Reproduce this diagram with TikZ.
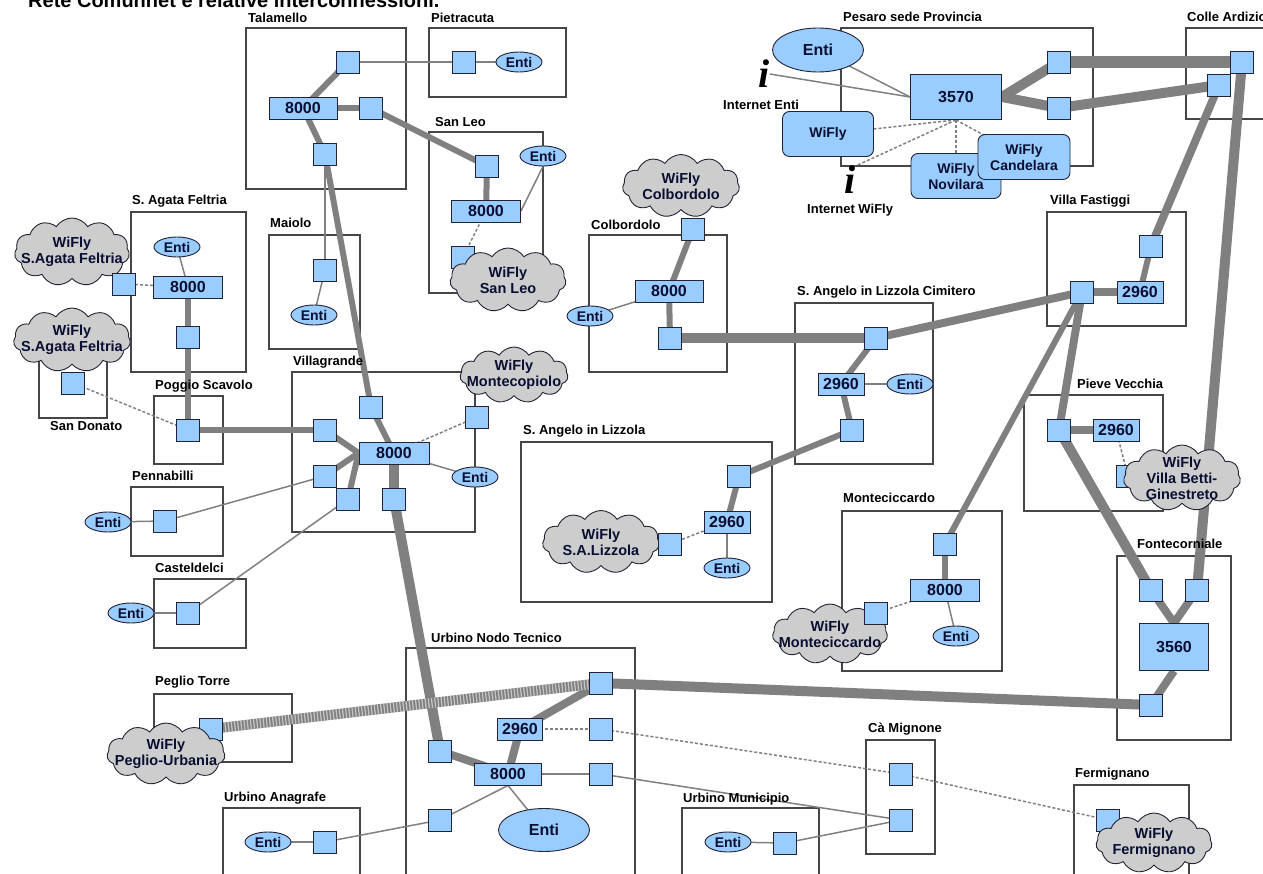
\documentclass[tikz,border=0pt]{standalone}
\usepackage{fontspec}
\setmainfont{Liberation Sans}
\newfontfamily\iconfont{Liberation Serif}
\usetikzlibrary{shapes.symbols,shapes.geometric}
\definecolor{nodeblue}{RGB}{153,204,255}
\definecolor{edgegray}{RGB}{128,128,128}
\definecolor{cloudgray}{RGB}{205,205,205}
\definecolor{boxline}{RGB}{70,70,70}
\definecolor{nodeline}{RGB}{35,35,55}
\definecolor{txt}{RGB}{10,15,50}
\pgfdeclarelayer{boxlayer}
\pgfdeclarelayer{linelayer}
\pgfsetlayers{boxlayer,linelayer,main}
\tikzset{
  port/.style={draw=nodeline, fill=nodeblue, minimum width=23pt, minimum height=22pt, inner sep=0pt, line width=0.9pt},
  switch/.style={draw=nodeline, fill=nodeblue, minimum height=22pt, inner sep=0pt, line width=0.9pt, text=txt, font=\bfseries\fontsize{16}{16}\selectfont},
  enti/.style={ellipse, draw=nodeline, fill=nodeblue, minimum width=46pt, minimum height=20pt, inner sep=0pt, line width=0.9pt, text=txt, font=\bfseries\fontsize{14}{14}\selectfont},
  bigenti/.style={enti, minimum width=91pt, minimum height=44pt, font=\bfseries\fontsize{16}{16}\selectfont},
  wcloud/.style={cloud, cloud puffs=11, cloud puff arc=115, cloud ignores aspect, draw=nodeline, fill=cloudgray, inner sep=0pt, line width=0.9pt},
  cloudtext/.style={align=center, inner sep=0pt, text=txt, font=\bfseries\fontsize{14.5}{16}\selectfont},
  wifibox/.style={draw=nodeline, fill=nodeblue, rounded corners=7pt, minimum width=91pt, minimum height=45pt, inner sep=0pt, line width=0.9pt, align=center, text=txt, font=\bfseries\fontsize{14}{16}\selectfont},
  site/.style={draw=boxline, line width=1.1pt},
  sitelabel/.style={anchor=west, inner sep=0pt, font=\bfseries\fontsize{13}{13}\selectfont},
  infoicon/.style={inner sep=0pt, font=\iconfont\bfseries\itshape\fontsize{40}{40}\selectfont},
  lthin/.style={draw=edgegray, line width=1.5pt},
  ldash/.style={draw=edgegray, line width=1.5pt, dash pattern=on 3pt off 2pt},
  lmed/.style={draw=edgegray, line width=6pt},
  lbig/.style={draw=edgegray, line width=8pt},
  lfat/.style={draw=edgegray, line width=10pt},
  lhatch/.style={draw=white, line width=10pt, dash pattern=on 1.2pt off 2pt, opacity=0.55},
}
\begin{document}
\begin{tikzpicture}[x=1pt,y=-1pt]
\useasboundingbox (0,0) rectangle (1263,874);
\node[anchor=base west, inner sep=0pt, font=\bfseries\fontsize{20}{20}\selectfont] (title) at (28,8) {Rete Comunnet e relative interconnessioni.};

% ---------- site boxes ----------
\begin{pgfonlayer}{boxlayer}
\draw[site] (246,28) rectangle (406,189);   % Talamello
\draw[site] (429,28) rectangle (566,97);    % Pietracuta
\draw[site] (429,132) rectangle (543,293);  % San Leo
\draw[site] (131,212) rectangle (246,372);  % S. Agata Feltria
\draw[site] (269,235) rectangle (360,349);  % Maiolo
\draw[site] (39,340) rectangle (107,418);   % San Donato
\draw[site] (154,396) rectangle (223,464);  % Poggio Scavolo
\draw[site] (292,372) rectangle (475,532);  % Villagrande
\draw[site] (131,487) rectangle (223,556);  % Pennabilli
\draw[site] (154,579) rectangle (246,648);  % Casteldelci
\draw[site] (589,235) rectangle (727,372);  % Colbordolo
\draw[site] (795,303) rectangle (933,464);  % Cimitero
\draw[site] (521,442) rectangle (772,602);  % S. Angelo in Lizzola
\draw[site] (841,28) rectangle (1093,166);  % Pesaro
\draw[site] (1186,28) rectangle (1275,119); % Colle Ardizio
\draw[site] (1047,212) rectangle (1186,326);% Villa Fastiggi
\draw[site] (1024,395) rectangle (1163,511);% Pieve Vecchia
\draw[site] (842,511) rectangle (1002,671); % Monteciccardo
\draw[site] (1117,556) rectangle (1231,740);% Fontecorniale
\draw[site] (406,648) rectangle (635,885);  % Urbino Nodo Tecnico
\draw[site] (154,694) rectangle (292,762);  % Peglio Torre
\draw[site] (223,808) rectangle (360,885);  % Urbino Anagrafe
\draw[site] (682,808) rectangle (819,885);  % Urbino Municipio
\draw[site] (866,740) rectangle (935,854);  % Ca Mignone
\draw[site] (1074,785) rectangle (1189,885);% Fermignano
\end{pgfonlayer}

% ---------- site labels ----------
\node[sitelabel] (l1) at (248,18) {Talamello};
\node[sitelabel] (l2) at (431,18) {Pietracuta};
\node[sitelabel] (l3) at (435,122) {San Leo};
\node[sitelabel] (l4) at (132,201) {S. Agata Feltria};
\node[sitelabel] (l5) at (270,223) {Maiolo};
\node[sitelabel] (l6) at (50,426) {San Donato};
\node[sitelabel] (l7) at (155,386) {Poggio Scavolo};
\node[sitelabel] (l8) at (293,362) {Villagrande};
\node[sitelabel] (l9) at (132,476) {Pennabilli};
\node[sitelabel] (l10) at (155,568) {Casteldelci};
\node[sitelabel] (l11) at (591,225) {Colbordolo};
\node[sitelabel] (l12) at (797,292) {S. Angelo in Lizzola Cimitero};
\node[sitelabel] (l13) at (523,431) {S. Angelo in Lizzola};
\node[sitelabel] (l14) at (843,17) {Pesaro sede Provincia};
\node[sitelabel] (l15) at (1187,17) {Colle Ardizio};
\node[sitelabel] (l16) at (1050,201) {Villa Fastiggi};
\node[sitelabel] (l17) at (1077,384) {Pieve Vecchia};
\node[sitelabel] (l18) at (843,498) {Monteciccardo};
\node[sitelabel] (l19) at (1137,544) {Fontecorniale};
\node[sitelabel] (l20) at (431,638) {Urbino Nodo Tecnico};
\node[sitelabel] (l21) at (155,682) {Peglio Torre};
\node[sitelabel] (l22) at (224,798) {Urbino Anagrafe};
\node[sitelabel] (l23) at (868,729) {Cà Mignone};
\node[sitelabel] (l24) at (683,799) {Urbino Municipio};
\node[sitelabel] (l25) at (1075,774) {Fermignano};
\node[sitelabel] (l26) at (723,105) {Internet Enti};
\node[sitelabel] (l27) at (807,210) {Internet WiFly};

% ---------- clouds lying under their ports ----------
\node[wcloud, minimum width=115pt, minimum height=68pt] (sacl) at (72,252) {};
\node[cloudtext] (sact) at (sacl) {WiFly\\S.Agata Feltria};
\node[wcloud, minimum width=117pt, minimum height=64pt] (sdcl) at (72,340) {};
\node[cloudtext] (sdct) at (sdcl) {WiFly\\S.Agata Feltria};
\node[wcloud, minimum width=108pt, minimum height=56pt] (mccl) at (514,375) {};
\node[cloudtext] (mcct) at (mccl) {WiFly\\Montecopiolo};
\node[wcloud, minimum width=117pt, minimum height=63pt] (cbcl) at (681,186) {};
\node[cloudtext] (cbct) at (cbcl) {WiFly\\Colbordolo};
\node[wcloud, minimum width=115pt, minimum height=60pt] (mocl) at (830,634) {};
\node[cloudtext] (moct) at (mocl) {WiFly\\Monteciccardo};
\node[wcloud, minimum width=117pt, minimum height=63pt] (lzcl) at (601,542) {};
\node[cloudtext] (lzct) at (lzcl) {WiFly\\S.A.Lizzola};

% ---------- Talamello / Pietracuta / San Leo ----------
\node[switch, minimum width=68pt] (tal8) at (303,108) {8000};
\node[port] (tala) at (348,62) {};
\node[port] (talb) at (371,108) {};
\node[port] (talc) at (325,154) {};
\node[port] (pisq) at (464,62) {};
\node[enti] (pien) at (519,62) {Enti};
\node[port] (slsq) at (487,166) {};
\node[switch, minimum width=69pt] (sl8) at (486,211) {8000};
\node[enti] (slen) at (543,156) {Enti};
\node[port] (slsq2) at (463,257) {};

% ---------- S. Agata / Maiolo / San Donato / Poggio ----------
\node[enti] (saen) at (177,247) {Enti};
\node[switch, minimum width=69pt] (sa8) at (188,287) {8000};
\node[port] (sasq) at (124,284) {};
\node[port] (sasq2) at (188,337) {};
\node[port] (masq) at (325,270) {};
\node[enti] (maen) at (314,315) {Enti};
\node[port] (sdsq) at (73,383) {};
\node[port] (pgsq) at (188,430) {};

% ---------- Villagrande / Pennabilli / Casteldelci ----------
\node[port] (vgtop) at (371,407) {};
\node[port] (vgl1) at (325,430) {};
\node[switch, minimum width=70pt] (vg8) at (394,453) {8000};
\node[port] (vgl2) at (325,476) {};
\node[port] (vgb1) at (348,499) {};
\node[port] (vgb2) at (394,499) {};
\node[port] (vgr) at (477,417) {};
\node[enti] (vgen) at (475,477) {Enti};
\node[enti] (peen) at (108,522) {Enti};
\node[port] (pesq) at (165,521) {};
\node[enti] (caen) at (131,613) {Enti};
\node[port] (casq) at (188,613) {};

% ---------- Colbordolo / Cimitero / Lizzola ----------
\node[port] (cbsq) at (693,229) {};
\node[switch, minimum width=68pt] (cb8) at (669,291) {8000};
\node[enti] (cben) at (590,316) {Enti};
\node[port] (cbsq2) at (670,338) {};
\node[port] (cmsq) at (876,338) {};
\node[switch, minimum width=46pt] (cm29) at (841,384) {2960};
\node[enti] (cmen) at (910,384) {Enti};
\node[port] (cmsq2) at (852,430) {};
\node[port] (lzsq) at (739,476) {};
\node[switch, minimum width=46pt] (lz29) at (727,522) {2960};
\node[enti] (lzen) at (727,568) {Enti};
\node[port] (lzsq2) at (670,544) {};

% ---------- Monteciccardo / Pieve / Fontecorniale / Villa Fastiggi / Colle ----------
\node[port] (mosq) at (945,544) {};
\node[switch, minimum width=69pt] (mo8) at (945,590) {8000};
\node[enti] (moen) at (956,636) {Enti};
\node[port] (mosq2) at (876,613) {};
\node[port] (pvsq) at (1059,430) {};
\node[switch, minimum width=46pt] (pv29) at (1116,430) {2960};
\node[port] (pvsq2) at (1128,476) {};
\node[port] (fcl) at (1151,590) {};
\node[port] (fcr) at (1197,590) {};
\node[switch, minimum width=69pt, minimum height=47pt] (fc35) at (1174,647) {3560};
\node[port] (fcb) at (1151,705) {};
\node[port] (vfsq) at (1151,246) {};
\node[port] (vfl) at (1082,292) {};
\node[switch, minimum width=46pt] (vf29) at (1140,292) {2960};
\node[port] (clsq1) at (1242,62) {};
\node[port] (clsq2) at (1219,85) {};

% ---------- Pesaro ----------
\node[bigenti] (psen) at (818,50) {Enti};
\node[switch, minimum width=91pt, minimum height=45pt] (ps35) at (956,97) {3570};
\node[port] (pssq1) at (1059,62) {};
\node[port] (pssq2) at (1059,108) {};
\node[wifibox] (pswf) at (828,134) {WiFly};
\node[wifibox, minimum width=90pt] (psno) at (956,176) {WiFly\\Novilara};
\node[wifibox, minimum width=92pt] (psca) at (1024,157) {WiFly\\Candelara};
\node[infoicon] (ie) at (764,74) {i};
\node[infoicon] (iw) at (850,180) {i};

% ---------- Urbino ----------
\node[port] (untr) at (601,683) {};
\node[switch, minimum width=45pt] (un29) at (520,729) {2960};
\node[port] (unrm) at (601,729) {};
\node[port] (unl) at (440,751) {};
\node[switch, minimum width=67pt] (un8) at (508,774) {8000};
\node[port] (unrl) at (601,774) {};
\node[port] (unll) at (440,820) {};
\node[bigenti, minimum height=43pt] (unen) at (544,830) {Enti};
\node[port] (ptsq) at (211,729) {};
\node[enti] (anen) at (268,842) {Enti};
\node[port] (ansq) at (325,842) {};
\node[enti] (muen) at (728,842) {Enti};
\node[port] (musq) at (785,843) {};
\node[port] (cmg1) at (901,774) {};
\node[port] (cmg2) at (901,820) {};
\node[port] (fesq) at (1108,820) {};

% ---------- clouds lying over their ports ----------
\node[wcloud, minimum width=116pt, minimum height=64pt] (slcl) at (508,280) {};
\node[cloudtext] (slct) at (slcl) {WiFly\\San Leo};
\node[wcloud, minimum width=118pt, minimum height=62pt] (ptcl) at (166,754) {};
\node[cloudtext] (ptct) at (ptcl) {WiFly\\Peglio-Urbania};
\node[wcloud, minimum width=117pt, minimum height=66pt] (pvcl) at (1182,478) {};
\node[cloudtext] (pvct) at (pvcl) {WiFly\\Villa Betti-\\Ginestreto};
\node[wcloud, minimum width=116pt, minimum height=60pt] (fecl) at (1154,843) {};
\node[cloudtext] (fect) at (fecl) {WiFly\\Fermignano};

% ---------- connectors ----------
\begin{pgfonlayer}{linelayer}
% Talamello, Pietracuta, Maiolo, San Leo
\draw[lmed] (tal8.center) -- (tala.center);
\draw[lmed] (tal8.center) -- (talb.center);
\draw[lmed] (tal8.center) -- (talc.center);
\draw[lthin] (tala.center) -- (pisq.center);
\draw[lthin] (pisq.center) -- (pien.center);
\draw[lmed] (talb.center) -- (slsq.center);
\draw[lmed] (talc.center) -- (vgtop.center);
\draw[lthin] (talc.center) -- (masq.center);
\draw[lthin] (masq.center) -- (maen.center);
\draw[lmed] (slsq.center) -- (sl8.center);
\draw[lthin] (sl8.east) -- (slen.south);
\draw[ldash] (sl8.center) -- (slsq2.center);
% S. Agata, San Donato, Poggio
\draw[lthin] (saen.center) -- (sa8.center);
\draw[ldash] (sa8.center) -- (sasq.center);
\draw[lmed] (sa8.center) -- (sasq2.center);
\draw[lmed] (sasq2.center) -- (pgsq.center);
\draw[ldash] (sdsq.center) -- (pgsq.center);
\draw[lmed] (pgsq.center) -- (vgl1.center);
% Villagrande
\draw[lmed] (vgl1.center) -- (vg8.west);
\draw[lmed] (vgtop.center) -- (vg8.center);
\draw[lmed] (vgl2.center) -- (vg8.west);
\draw[lmed] (vgb1.center) -- (vg8.west);
\draw[lfat] (vg8.center) -- (vgb2.center);
\draw[ldash] (vg8.center) -- (vgr.center);
\draw[lthin] (vg8.center) -- (vgen.center);
\draw[lthin] (pesq.center) -- (vgl2.center);
\draw[lthin] (casq.center) -- (vgb1.center);
\draw[lthin] (peen.center) -- (pesq.center);
\draw[lthin] (caen.center) -- (casq.center);
\draw[lfat] (vgb2.center) -- (unl.center);
% Urbino
\draw[lbig] (unl.center) -- (un8.center);
\draw[lbig] (un8.center) -- (un29.center);
\draw[lbig] (un29.center) -- (untr.center);
\draw[ldash] (un29.center) -- (unrm.center);
\draw[lthin] (un8.center) -- (unrl.center);
\draw[lthin] (un8.south) -- (unen.center);
\draw[lthin] (un8.south) -- (unll.center);
\draw[lthin] (unll.center) -- (ansq.center);
\draw[lthin] (anen.center) -- (ansq.center);
\draw[lfat] (untr.center) -- (fcb.center);
\draw[lfat] (untr.center) -- (ptsq.center);
\draw[lhatch] (untr.center) -- (ptsq.center);
\draw[ldash] (unrm.center) -- (cmg1.center);
\draw[ldash] (cmg1.center) -- (fesq.center);
\draw[lthin] (unrl.center) -- (cmg2.center);
\draw[lthin] (cmg2.center) -- (musq.center);
\draw[lthin] (muen.center) -- (musq.center);
% Colbordolo, Cimitero, Lizzola
\draw[lmed] (cbsq.center) -- (cb8.center);
\draw[lmed] (cb8.center) -- (cbsq2.center);
\draw[lthin] (cb8.center) -- (cben.center);
\draw[lfat] (cbsq2.center) -- (cmsq.center);
\draw[lmed] (cmsq.center) -- (cm29.center);
\draw[lthin] (cm29.center) -- (cmen.center);
\draw[lmed] (cm29.center) -- (cmsq2.center);
\draw[lbig] (cmsq.center) -- (vfl.center);
\draw[lmed] (cmsq2.center) -- (lzsq.center);
\draw[lmed] (lzsq.center) -- (lz29.center);
\draw[lthin] (lz29.center) -- (lzen.center);
\draw[ldash] (lz29.center) -- (lzsq2.center);
% Villa Fastiggi, Pieve, Monteciccardo, Fontecorniale, Colle
\draw[lbig] (vfl.center) -- (vf29.center);
\draw[lmed] (vf29.center) -- (vfsq.center);
\draw[lbig] (vfsq.center) -- (clsq2.center);
\draw[lmed] (vfl.center) -- (mosq.center);
\draw[lbig] (vfl.center) -- (pvsq.center);
\draw[lbig] (pvsq.center) -- (pv29.center);
\draw[ldash] (pv29.center) -- (pvsq2.center);
\draw[lfat] (pvsq.center) -- (fcl.center);
\draw[lmed] (mosq.center) -- (mo8.center);
\draw[lthin] (mo8.center) -- (moen.center);
\draw[ldash] (mo8.center) -- (mosq2.center);
\draw[lbig] (fcl.center) -- (fc35.north);
\draw[lbig] (fcr.center) -- (fc35.north);
\draw[lbig] (fc35.south) -- (fcb.center);
\draw[lfat] (fcr.center) -- (clsq1.center);
% Pesaro
\draw[draw=edgegray, line width=12pt] (clsq1.center) -- (pssq1.center);
\draw[lfat] (clsq2.center) -- (pssq2.center);
\draw[lfat] (ps35.east) -- (pssq1.center);
\draw[lfat] (ps35.east) -- (pssq2.center);
\draw[lthin] (ps35.west) -- (psen.center);
\draw[lthin] (ps35.west) -- (ie.east);
\draw[ldash] (ps35.south) -- (pswf.center);
\draw[ldash] (ps35.south) -- (iw.north east);
\draw[ldash] (ps35.south) -- (psno.center);
\draw[ldash] (ps35.south) -- (psca.center);
\end{pgfonlayer}
\end{tikzpicture}
\end{document}
